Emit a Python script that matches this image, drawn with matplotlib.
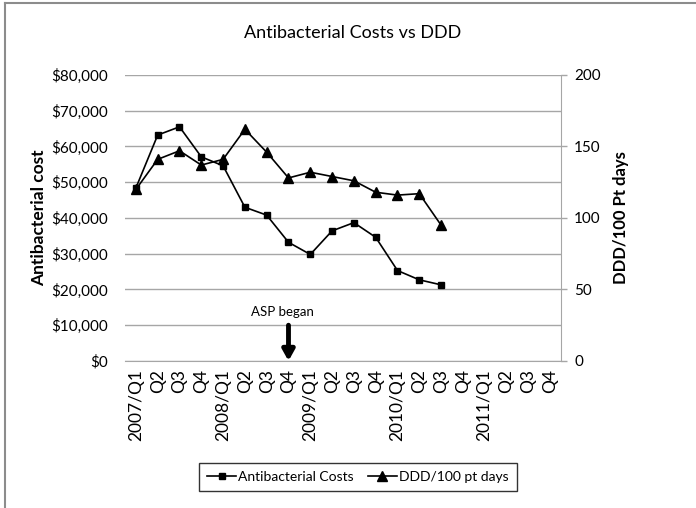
import matplotlib.pyplot as plt
import numpy as np
from matplotlib.ticker import FuncFormatter

# quarterly data, 2007/Q1 .. 2011/Q4 (costs and DDD only recorded up to 2010/Q3)
quarters = ['2007/Q1', 'Q2', 'Q3', 'Q4',
            '2008/Q1', 'Q2', 'Q3', 'Q4',
            '2009/Q1', 'Q2', 'Q3', 'Q4',
            '2010/Q1', 'Q2', 'Q3', 'Q4',
            '2011/Q1', 'Q2', 'Q3', 'Q4']
costs = [48400, 63200, 65500, 57100,
         54600, 43000, 40800, 33200,
         29800, 36400, 38700, 34600,
         25300, 22700, 21300]
ddd = [120, 141, 147, 137,
       141, 162, 146, 128,
       132, 129, 126, 118,
       116, 117, 95]
cost_ticks = list(range(0, 80001, 10000))
ddd_ticks = [0, 50, 100, 150, 200]
asp_index = 7  # 2008/Q4

plt.rcParams['font.family'] = ['Lato', 'DejaVu Sans']

grid_col = '#a6a6a6'

fig = plt.figure(figsize=(6.96, 5.08), dpi=100)
ax = fig.add_axes([0.1796, 0.2894, 0.6264, 0.563])
ax2 = ax.twinx()

x = np.arange(len(quarters))
ax.plot(x[:len(costs)], costs, color='black', lw=1.2, marker='s', ms=5,
        label='Antibacterial Costs', zorder=3)
ax2.plot(x[:len(ddd)], ddd, color='black', lw=1.2, marker='^', ms=6.5,
         label='DDD/100 pt days', zorder=3)

ax.set_xlim(-0.5, len(quarters) - 0.5)
ax.set_ylim(0, 80000)
ax2.set_ylim(0, 200)
ax.set_yticks(cost_ticks)
ax2.set_yticks(ddd_ticks)
ax.yaxis.set_major_formatter(FuncFormatter(lambda v, p: f'${v:,.0f}'))
ax.set_xticks(x)
ax.set_xticklabels(quarters, rotation=90)

ax.yaxis.grid(True, color=grid_col, lw=1)
ax.set_axisbelow(True)
for a in (ax, ax2):
    for s in ('top', 'left', 'right'):
        a.spines[s].set_visible(False)
    a.spines['bottom'].set_color(grid_col)
ax2.spines['bottom'].set_visible(False)
ax2.spines['right'].set_visible(True)
ax2.spines['right'].set_color(grid_col)

ax.tick_params(axis='y', length=0, pad=12, labelsize=11)
ax.tick_params(axis='x', length=0, pad=6, labelsize=12.5)
ax2.tick_params(axis='y', length=4.5, color=grid_col, width=1, pad=5, labelsize=11)

ax.set_ylabel('Antibacterial cost', fontsize=12.5, fontweight='bold', labelpad=3)
ax2.set_ylabel('DDD/100 Pt days', fontsize=12, fontweight='bold', labelpad=9)
fig.text(0.507, 0.935, 'Antibacterial Costs vs DDD', ha='center', va='center',
         fontsize=13)

# start of the stewardship programme
ax.annotate('', xy=(asp_index, 0), xytext=(asp_index, 10000),
            arrowprops=dict(arrowstyle='-|>,head_width=0.25,head_length=0.45',
                            color='black', lw=3.5, mutation_scale=14,
                            shrinkA=0, shrinkB=0))
ax.text(asp_index - 0.3, 13600, 'ASP began', ha='center', va='center', fontsize=9.5)

h1, l1 = ax.get_legend_handles_labels()
h2, l2 = ax2.get_legend_handles_labels()
leg = fig.legend(h1 + h2, l1 + l2, loc='center', bbox_to_anchor=(0.514, 0.061),
                 ncol=2, frameon=True, fancybox=False, fontsize=10,
                 handlelength=2.1, handletextpad=0.15, columnspacing=1.0,
                 borderpad=0.6, borderaxespad=0)
leg.get_frame().set_edgecolor('black')
leg.get_frame().set_linewidth(1)

# partial chart frame on the left and top edges
fig.add_artist(plt.Line2D([0.0065, 0.0065], [0, 0.994], color='#8c8c8c', lw=1.5,
                          transform=fig.transFigure))
fig.add_artist(plt.Line2D([0.0065, 1], [0.994, 0.994], color='#8c8c8c', lw=1.5,
                          transform=fig.transFigure))

fig.savefig('out.png', dpi=100, facecolor='white')
